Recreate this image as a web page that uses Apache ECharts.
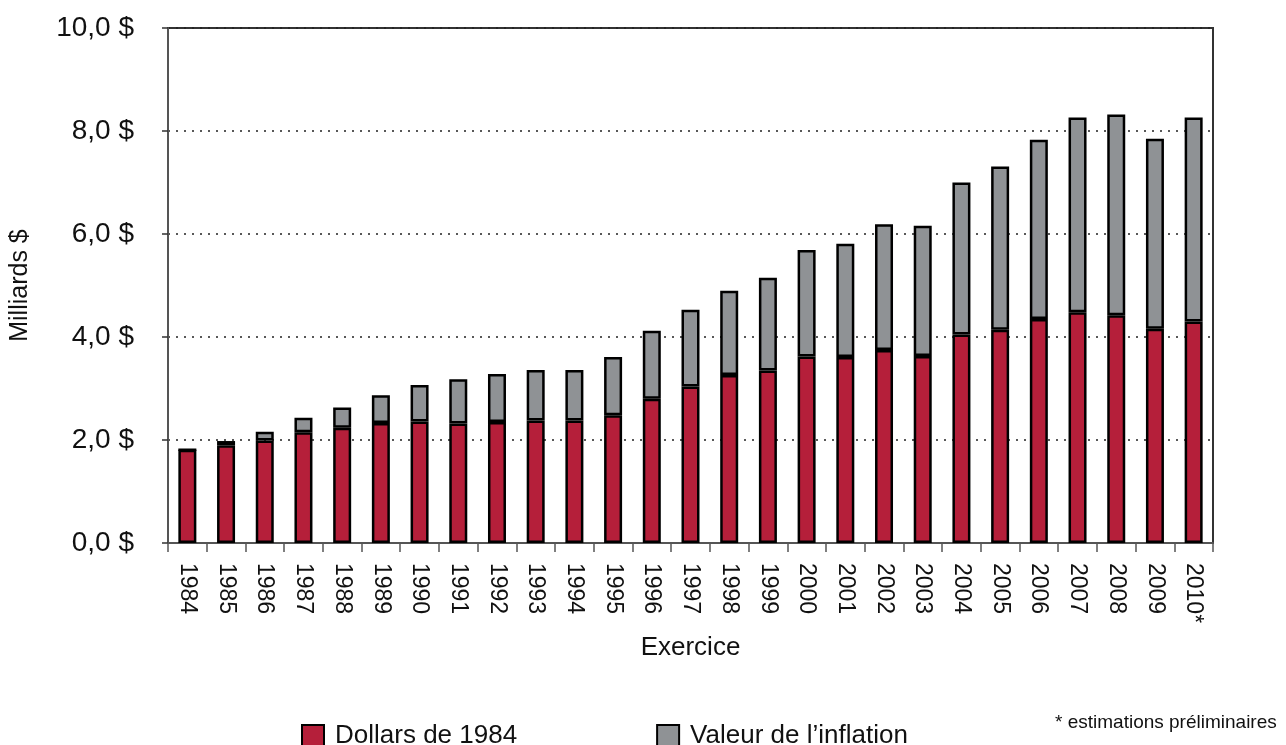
<!DOCTYPE html>
<html>
<head>
<meta charset="utf-8">
<script src="https://cdn.jsdelivr.net/npm/echarts@6/dist/echarts.min.js"></script>
<style>
  html, body { margin: 0; padding: 0; background: #fff; }
  #chart { width: 1286px; height: 745px; }
</style>
</head>
<body>
<div id="chart"></div>
<script>
// exercices (2010 = estimation preliminaire)
const years = ['1984', '1985', '1986', '1987', '1988', '1989', '1990', '1991', '1992',
  '1993', '1994', '1995', '1996', '1997', '1998', '1999', '2000', '2001', '2002',
  '2003', '2004', '2005', '2006', '2007', '2008', '2009', '2010*']

// milliards $, en dollars de 1984
const dollars1984 = [1.81, 1.90, 1.99, 2.15, 2.24, 2.33, 2.36, 2.32, 2.35,
  2.38, 2.38, 2.48, 2.80, 3.04, 3.26, 3.35, 3.62, 3.61, 3.75,
  3.63, 4.05, 4.14, 4.35, 4.48, 4.42, 4.16, 4.30]

// part due a l'inflation
const inflation = [0, 0.08, 0.17, 0.28, 0.39, 0.54, 0.71, 0.86, 0.93,
  0.98, 0.98, 1.13, 1.32, 1.49, 1.64, 1.80, 2.07, 2.20, 2.44,
  2.53, 2.95, 3.17, 3.48, 3.78, 3.90, 3.69, 3.96]

const yTicks = [0, 2, 4, 6, 8, 10]

const font = '"Liberation Sans", Arial, sans-serif'

let chart = echarts.init(document.getElementById('chart'))

let option = {
  animation: false,
  textStyle: { fontFamily: font },
  grid: {
    left: 168,
    right: 73,
    top: 28,
    bottom: 202,
    show: true,
    borderColor: '#333',
    borderWidth: 2
  },
  legend: {
    left: 296,
    top: 718,
    icon: 'rect',
    itemWidth: 22,
    itemHeight: 22,
    itemGap: 139,
    textStyle: { fontSize: 26, color: '#111', padding: [0, 0, 0, 6] },
    itemStyle: { borderColor: '#000', borderWidth: 2 },
    data: ['Dollars de 1984', 'Valeur de l\u2019inflation']
  },
  graphic: [{
    type: 'text',
    left: 1055,
    top: 713,
    style: {
      text: '* estimations pr\u00e9liminaires',
      font: '19px ' + font,
      fill: '#111'
    }
  }],
  xAxis: {
    type: 'category',
    data: years,
    name: 'Exercice',
    nameLocation: 'middle',
    nameGap: 92,
    nameTextStyle: { fontSize: 26, color: '#111' },
    axisLine: { lineStyle: { color: '#555', width: 2 } },
    axisTick: { show: true, length: 9, lineStyle: { color: '#555', width: 1.5 } },
    axisLabel: {
      rotate: -90,
      margin: 20,
      fontSize: 23,
      color: '#111'
    }
  },
  yAxis: {
    type: 'value',
    min: 0,
    max: 10,
    interval: 2,
    name: 'Milliards $',
    nameLocation: 'middle',
    nameGap: 135,
    nameTextStyle: { fontSize: 25, color: '#111' },
    axisLine: { show: true, lineStyle: { color: '#555', width: 2 } },
    axisTick: { show: true, length: 6, lineStyle: { color: '#333', width: 1.5 } },
    axisLabel: {
      margin: 34,
      fontSize: 28,
      color: '#111',
      formatter: function (v) {
        return yTicks.indexOf(v) >= 0 ? v.toFixed(1).replace('.', ',') + ' $' : ''
      }
    },
    splitLine: {
      show: true,
      lineStyle: { color: '#222', width: 1.5, type: [2, 6] }
    }
  },
  series: [
    {
      name: 'Dollars de 1984',
      type: 'bar',
      stack: 'total',
      barWidth: 18,
      data: dollars1984,
      itemStyle: { color: '#B51F3A', borderColor: '#000', borderWidth: 2.5 }
    },
    {
      name: 'Valeur de l\u2019inflation',
      type: 'bar',
      stack: 'total',
      barWidth: 18,
      data: inflation,
      itemStyle: { color: '#8F9295', borderColor: '#000', borderWidth: 2.5 }
    }
  ]
}

chart.setOption(option, true)
</script>
</body>
</html>
